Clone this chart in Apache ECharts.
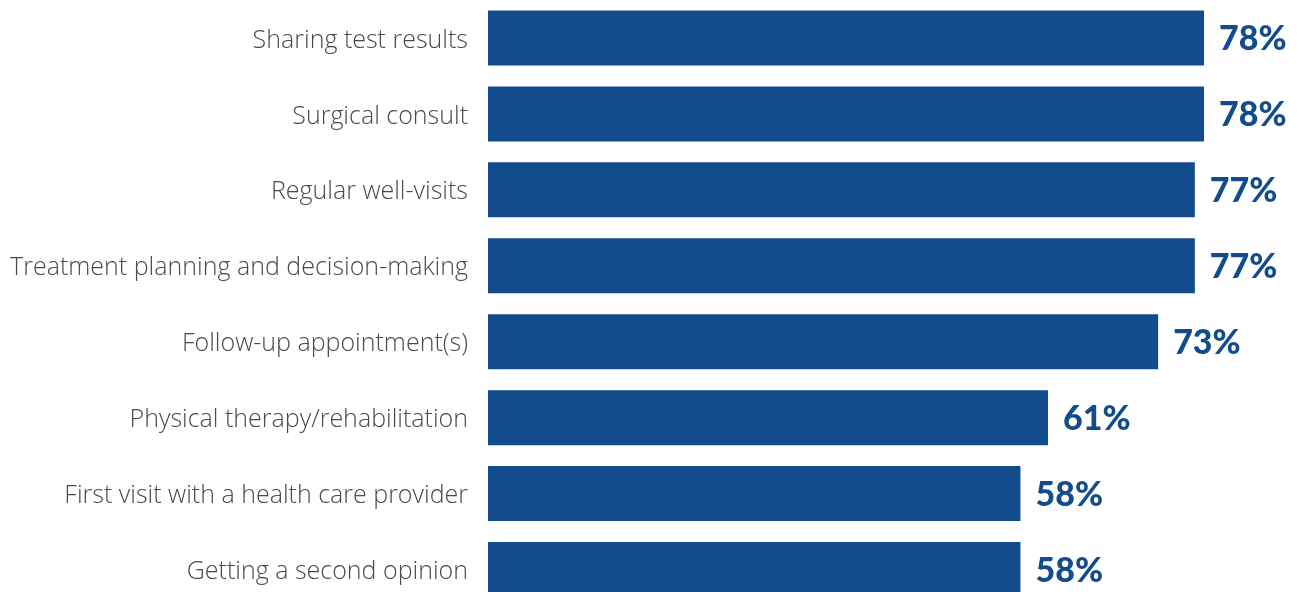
<!DOCTYPE html>
<html><head><meta charset="utf-8">
<script src="https://cdn.jsdelivr.net/npm/echarts@6/dist/echarts.min.js"></script>
<style>html,body{margin:0;padding:0;background:#fff;overflow:hidden}#c{width:1299px;height:608px}</style>
</head><body><div id="c"></div>
<script>
const categories = ["Sharing test results","Surgical consult","Regular well-visits","Treatment planning and decision-making","Follow-up appointment(s)","Physical therapy/rehabilitation","First visit with a health care provider","Getting a second opinion"];
const values = [78,78,77,77,73,61,58,58];
const chart = echarts.init(document.getElementById('c'));
chart.setOption({
  animation:false,
  grid:{left:488, top:-0.5, width:734.4, height:608, containLabel:false},
  xAxis:{type:'value', min:0, max:80, show:false},
  yAxis:{type:'category', data:categories, inverse:true,
    axisLine:{show:false}, axisTick:{show:false},
    axisLabel:{margin:20, formatter:v=>'{a|'+v+'}',
      rich:{a:{fontFamily:'Open Sans', fontSize:25, color:'#4a4a4a', fontWeight:300, padding:[5,0,0,0]}}}},
  series:[{type:'bar', data:values, barWidth:55, itemStyle:{color:'#134C8C'},
    label:{show:true, position:'right', distance:15, formatter:'{c}%', offset:[0,1],
      fontFamily:'Lato', fontWeight:900, fontSize:34, color:'#134C8C'}}]
});
</script></body></html>
